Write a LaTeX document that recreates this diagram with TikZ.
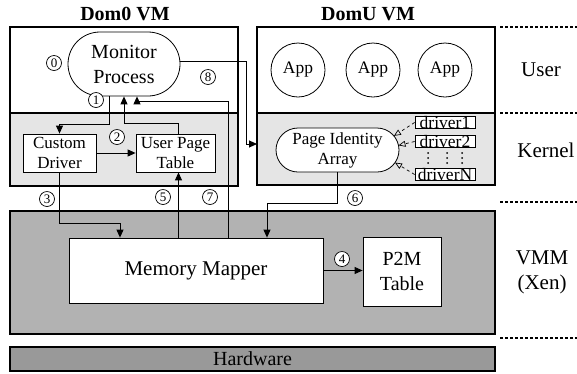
\documentclass[tikz,border=0pt]{standalone}
\usepackage{fontspec}
\setmainfont{Liberation Serif}
\usetikzlibrary{positioning, arrows.meta}

\tikzset{
  layer/.style={draw, line width=1.6pt, inner sep=0pt, outer sep=0pt},
  unit/.style={draw, fill=white, line width=0.8pt, align=center, inner sep=1pt,
    font=\fontsize{17}{20}\selectfont},
  app/.style={draw, fill=white, circle, line width=0.8pt, minimum size=54pt,
    inner sep=0pt, font=\fontsize{17.5}{20}\selectfont},
  drv/.style={draw, fill=white, line width=0.8pt, minimum width=60pt,
    minimum height=11pt, inner sep=0pt, font=\fontsize{17.5}{17}\selectfont},
  num/.style={draw, fill=white, circle, line width=0.7pt, minimum size=15pt,
    inner sep=0pt, font=\fontsize{13}{13}\selectfont},
  flow/.style={line width=0.9pt, -{Triangle[length=8pt, width=7pt]}},
  hint/.style={dashed, line width=0.7pt, -{Triangle[open, length=7pt, width=6pt]}},
  sep/.style={line width=1.2pt, dash pattern=on 3pt off 2pt},
  side/.style={font=\fontsize{21}{25}\selectfont, align=center},
  title/.style={font=\bfseries\fontsize{20}{24}\selectfont}
}

\begin{document}
\begin{tikzpicture}[x=1pt, y=-1pt]
\useasboundingbox (0,0) rectangle (577,373);

% layers
\node[layer, fill=white, minimum width=228pt, minimum height=86pt] (d0user) at (124,70) {};
\node[layer, fill=black!10, minimum width=228pt, minimum height=73pt] (d0kern) at (124,149.5) {};
\node[layer, fill=white, minimum width=238pt, minimum height=86pt] (duuser) at (376,70) {};
\node[layer, fill=black!10, minimum width=238pt, minimum height=72pt] (dukern) at (376,149) {};
\node[layer, fill=black!30, minimum width=485pt, minimum height=123pt] (vmm) at (252.5,272.5) {};
\node[layer, fill=black!40, minimum width=485pt, minimum height=24pt,
  font=\fontsize{20}{24}\selectfont] (hw) at (252.5,359) {Hardware};

\node[title] (t0) at (125,14) {Dom0 VM};
\node[title] (tu) at (368,14) {DomU VM};

% separators and side labels
\foreach \y/\n in {27/a, 113/b, 202/c, 338/d}
  \coordinate (s\n) at (500,\y);
\foreach \n in {a, b, c, d}
  \draw[sep] (s\n) -- ++(77,0);
\node[side] (luser) at (541,70) {User};
\node[side] (lkern) at (546,150) {Kernel};
\node[side] (lvmm) at (542,272) {VMM\\(Xen)};

% Dom0
\node[unit, rounded corners=32pt, minimum width=112pt, minimum height=64pt,
  font=\fontsize{20}{25}\selectfont] (mon) at (124,64) {Monitor\\Process};
\node[unit, minimum width=73pt, minimum height=38pt] (cdrv) at (59.5,153) {Custom\\Driver};
\node[unit, minimum width=79pt, minimum height=38pt] (upt) at (175.5,153) {User Page\\Table};

% DomU
\node[app] (app1) at (298,70) {App};
\node[app] (app2) at (373,70) {App};
\node[app] (app3) at (445,70) {App};
\node[unit, rounded corners=22pt, minimum width=123pt, minimum height=44pt] (pia) at (337.5,150) {Page Identity\\Array};
\node[drv] (drv1) at (445,122.5) {driver1};
\node[drv] (drv2) at (445,141.5) {driver2};
\node[drv] (drvn) at (445,174.5) {driverN};
\foreach \x in {428, 447, 462}
  \foreach \y in {153, 158, 163}
    \fill (\x,\y) circle (1pt);

% VMM
\node[unit, minimum width=254pt, minimum height=65pt,
  font=\fontsize{21}{25}\selectfont] (mapper) at (196,270.5) {Memory Mapper};
\node[unit, minimum width=78pt, minimum height=69pt,
  font=\fontsize{20}{25}\selectfont] (p2m) at (402,271.5) {P2M\\Table};

% flows
\draw[flow] ([xshift=-15pt]mon.south) -- ++(0,28) -| (cdrv.north);
\draw[flow] (cdrv.east) -- (upt.west);
\draw[flow] ([xshift=3pt]upt.north) -- ++(0,-10) -| (mon.south);
\draw[flow] (cdrv.south) -- ++(0,51) -| ([xshift=-76pt]mapper.north);
\draw[flow] (mapper.east) -- (mapper.east -| p2m.west);
\draw[flow] ([xshift=3pt]upt.south |- mapper.north) -- ([xshift=3pt]upt.south);
\draw[flow] (pia.south) -- ++(0,31) -| ([xshift=71pt]mapper.north);
\draw[flow] ([xshift=32pt]mapper.north) -- ++(0,-136) -| ([xshift=13pt]mon.south);
\draw[flow] ([yshift=3pt]mon.east) -- ++(66,0) |- ([yshift=5pt]dukern.west);

\draw[hint] (drv1.west) -- ([shift={(56.4,-14.1)}]pia.center);
\draw[hint] (drv2.west) -- ([shift={(61,-4.6)}]pia.center);
\draw[hint] (drvn.west) -- ([shift={(57.5,12.6)}]pia.center);

% step numbers
\node[num] (n0) at (54,63) {0};
\node[num] (n1) at (96,100) {1};
\node[num] (n2) at (117,137) {2};
\node[num] (n3) at (47,199) {3};
\node[num] (n4) at (342,259) {4};
\node[num] (n5) at (163,197) {5};
\node[num] (n6) at (355,198) {6};
\node[num] (n7) at (210,197) {7};
\node[num] (n8) at (208,77) {8};
\end{tikzpicture}
\end{document}
